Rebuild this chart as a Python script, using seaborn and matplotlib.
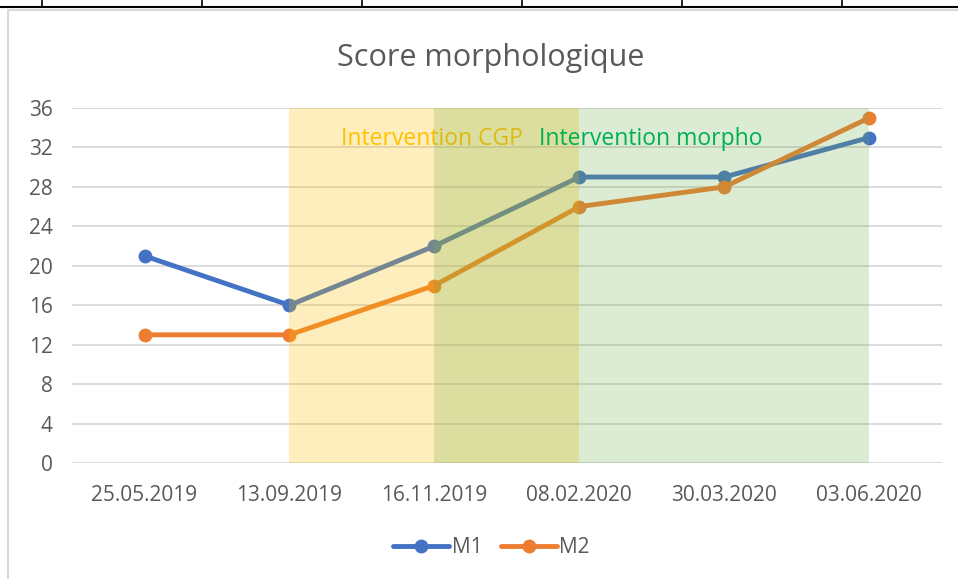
import matplotlib
matplotlib.use("Agg")
import matplotlib.pyplot as plt
import matplotlib.lines as mlines
import matplotlib.patches as mpatches
import pandas as pd
import seaborn as sns

# données
dates = ["25.05.2019", "13.09.2019", "16.11.2019", "08.02.2020", "30.03.2020", "03.06.2020"]
m1 = [21, 16, 22, 29, 29, 33]
m2 = [13, 13, 18, 26, 28, 35]
series_names = ["M1", "M2"]
y_ticks = [0, 4, 8, 12, 16, 20, 24, 28, 32, 36]

# périodes d'intervention (index des dates)
cgp_start, cgp_end = 1, 3
morpho_start, morpho_end = 2, 5

df = pd.DataFrame({
    "date": dates * 2,
    "score": m1 + m2,
    "serie": [series_names[0]] * len(dates) + [series_names[1]] * len(dates),
})

sns.set_theme(style="white")
plt.rcParams["font.family"] = ["Open Sans", "DejaVu Sans"]

fig = plt.figure(figsize=(9.58, 5.79), dpi=100)
ax = fig.add_axes([0.0752, 0.2003, 0.9078, 0.6132])

palette = {"M1": "#4472C4", "M2": "#ED7D31"}
sns.lineplot(data=df, x="date", y="score", hue="serie", palette=palette,
             marker="o", markersize=10, markeredgewidth=0, linewidth=3.5,
             sort=False, ax=ax, zorder=3, legend=False)

# zones colorées (par-dessus les courbes comme dans Excel)
ax.axvspan(cgp_start, cgp_end, color="#FFC000", alpha=0.26, lw=0, zorder=4)
ax.axvspan(morpho_start, morpho_end, color="#70AD47", alpha=0.24, lw=0, zorder=4)

ax.text(1.355, 32.9, "Intervention CGP", color="#FFC000", fontsize=16.5,
        va="center", ha="left", zorder=3)
ax.text(2.72, 32.9, "Intervention morpho", color="#00B050", fontsize=16.5,
        va="center", ha="left", zorder=5)

ax.set_xlim(-0.5, len(dates) - 0.5)
ax.set_ylim(0, 36)
ax.set_yticks(y_ticks)
ax.yaxis.grid(True, color="#D9D9D9", linewidth=1.3)
ax.set_axisbelow(True)
for s in ax.spines.values():
    s.set_visible(False)
ax.tick_params(axis="both", length=0, labelsize=15, colors="#595959")
ax.tick_params(axis="x", pad=16)
ax.tick_params(axis="y", pad=14)
ax.set_xlabel("")
ax.set_ylabel("")

fig.text(0.512, 0.899, "Score morphologique", ha="center", va="center",
         fontsize=22, color="#595959")

handles = [mlines.Line2D([], [], color=palette[n], lw=3.5, marker="o",
                         markersize=10, markeredgewidth=0) for n in series_names]
fig.legend(handles, series_names, loc="center", bbox_to_anchor=(0.513, 0.054),
           ncol=2, frameon=False, fontsize=15, labelcolor="#595959",
           handlelength=2.7, handletextpad=0.1, columnspacing=0.9)

# cadre du graphique et lignes du tableau au-dessus
fig.add_artist(mpatches.Rectangle((8 / 958, -0.01), 0.995, 1 - 10 / 579 + 0.01,
                                  transform=fig.transFigure, fill=False,
                                  edgecolor="#D9D9D9", lw=1.5))
fig.add_artist(mlines.Line2D([0, 1], [1 - 7 / 579] * 2, color="black", lw=1.5,
                             transform=fig.transFigure))
for xp in [42, 202, 362, 522, 682, 842]:
    fig.add_artist(mlines.Line2D([xp / 958] * 2, [1 - 7 / 579, 1], color="black",
                                 lw=1.2, transform=fig.transFigure))

fig.savefig("out.png", dpi=100, facecolor="white")
